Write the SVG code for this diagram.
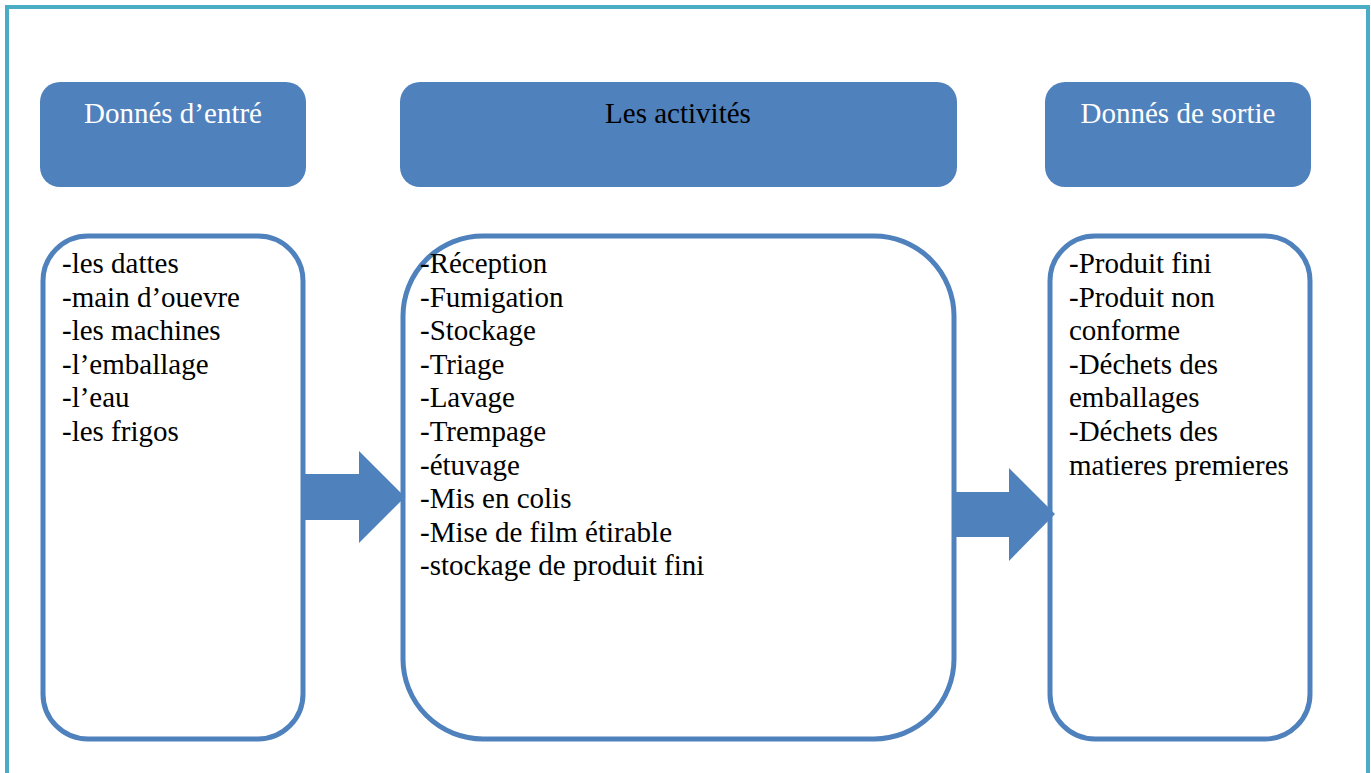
<svg xmlns="http://www.w3.org/2000/svg" width="1371" height="773" viewBox="0 0 1371 773">
<style>
.hdr{fill:#4F81BD;}
.box{fill:#fff;stroke:#4F81BD;stroke-width:5;}
.t{font-family:"Liberation Serif","Times New Roman",serif;font-size:29px;fill:#000;}
.w{fill:#fff;}
.arr{fill:#4F81BD;}
</style>
<rect x="0" y="0" width="1371" height="773" fill="#fff"/>
<path d="M7,775 V7 H1368 V775" fill="none" stroke="#4BACC6" stroke-width="4"/>
<g id="hdr-entree">
<rect class="hdr" x="40" y="82" width="266" height="105" rx="20"/>
<text class="t w" x="173" y="123" text-anchor="middle">Donnés d’entré</text>
</g>
<g id="hdr-activites">
<rect class="hdr" x="400" y="82" width="557" height="105" rx="20"/>
<text class="t" x="678" y="123" text-anchor="middle">Les activités</text>
</g>
<g id="hdr-sortie">
<rect class="hdr" x="1045" y="82" width="266" height="105" rx="20"/>
<text class="t w" x="1178" y="123" text-anchor="middle">Donnés de sortie</text>
</g>
<g id="entree">
<rect class="box" x="43" y="236" width="260" height="503" rx="45"/>
<text class="t">
<tspan x="62" y="273">-les dattes</tspan>
<tspan x="62" y="307">-main d’ouevre</tspan>
<tspan x="62" y="340">-les machines</tspan>
<tspan x="62" y="374">-l’emballage</tspan>
<tspan x="62" y="407">-l’eau</tspan>
<tspan x="62" y="441">-les frigos</tspan>
</text>
</g>
<g id="activites">
<rect class="box" x="403" y="236" width="551" height="503" rx="80"/>
<text class="t">
<tspan x="420" y="273">-Réception</tspan>
<tspan x="420" y="307">-Fumigation</tspan>
<tspan x="420" y="340">-Stockage</tspan>
<tspan x="420" y="374">-Triage</tspan>
<tspan x="420" y="407">-Lavage</tspan>
<tspan x="420" y="441">-Trempage</tspan>
<tspan x="420" y="475">-étuvage</tspan>
<tspan x="420" y="508">-Mis en colis</tspan>
<tspan x="420" y="542">-Mise de film étirable</tspan>
<tspan x="420" y="575">-stockage de produit fini</tspan>
</text>
</g>
<g id="sortie">
<rect class="box" x="1050" y="236" width="260" height="503" rx="45"/>
<text class="t">
<tspan x="1069" y="273">-Produit fini</tspan>
<tspan x="1069" y="307">-Produit non</tspan>
<tspan x="1069" y="340">conforme</tspan>
<tspan x="1069" y="374">-Déchets des</tspan>
<tspan x="1069" y="407">emballages</tspan>
<tspan x="1069" y="441">-Déchets des</tspan>
<tspan x="1069" y="475">matieres premieres</tspan>
</text>
</g>
<g id="connectors">
<path class="arr" d="M305,474 H359 V451 L405,497 L359,543 V520 H305 Z"/>
<path class="arr" d="M956,492 H1009 V468 L1055,514 L1009,561 V537 H956 Z"/>
</g>
</svg>
